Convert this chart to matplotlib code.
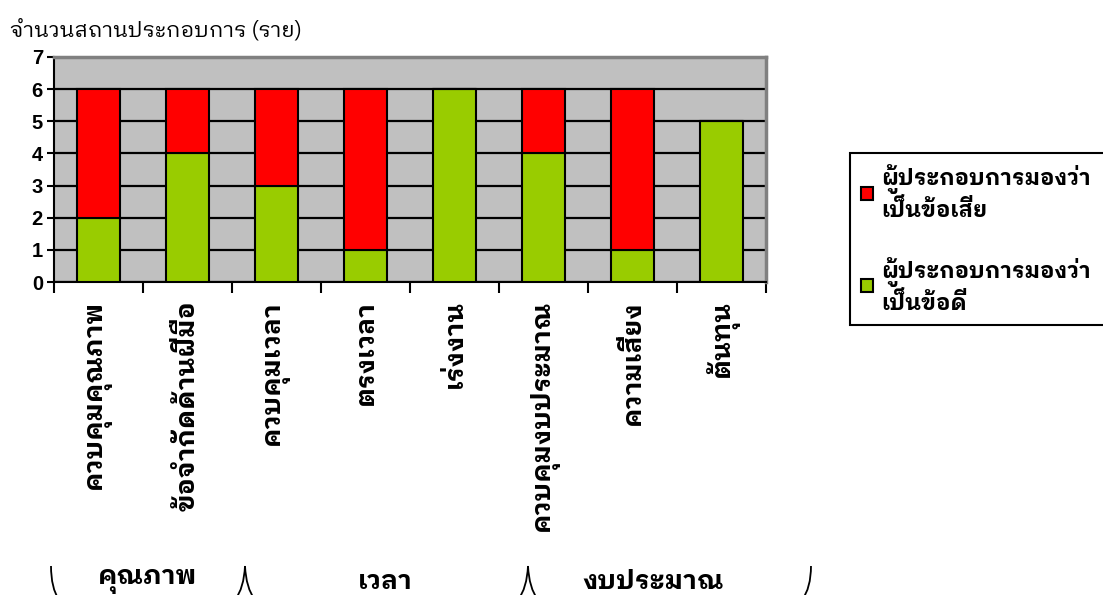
import matplotlib
matplotlib.use("Agg")
import matplotlib.pyplot as plt
import numpy as np
from matplotlib.path import Path
from matplotlib.patches import PathPatch

thai = ['IBM Plex Sans Thai Looped', 'Loma', 'DejaVu Sans']

# จำนวนสถานประกอบการที่มองว่าแต่ละวิธีเป็นข้อดี / ข้อเสีย
topics = ['ควบคุมคุณภาพ', 'ข้อจำกัดด้านฝีมือ', 'ควบคุมเวลา', 'ตรงเวลา',
          'เร่งงาน', 'ควบคุมงบประมาณ', 'ความเสี่ยง', 'ต้นทุน']
good = [2, 4, 3, 1, 6, 4, 1, 5]
bad = [4, 2, 3, 5, 0, 2, 5, 0]
groups = ['คุณภาพ', 'เวลา', 'งบประมาณ']
label_bad = 'ผู้ประกอบการมองว่า\nเป็นข้อเสีย'
label_good = 'ผู้ประกอบการมองว่า\nเป็นข้อดี'

W, H = 1103, 595
fig = plt.figure(figsize=(W / 100, H / 100), dpi=100)
ax = fig.add_axes([54 / W, 1 - 282 / H, (766 - 54) / W, (282 - 57) / H])
ax.set_facecolor('#C0C0C0')

x = np.arange(len(topics))
b_good = ax.bar(x, good, width=0.48, color='#99CC00', edgecolor='black', linewidth=1.5, zorder=3)
b_bad = ax.bar(x, bad, bottom=good, width=0.48, color='#FF0000', edgecolor='black', linewidth=1.5, zorder=3)

ax.set_xlim(-0.5, len(topics) - 0.5)
ax.set_ylim(0, 7)
ax.set_yticks(range(8))
ax.yaxis.grid(True, color='black', linewidth=1.6)
ax.set_axisbelow(True)
ax.tick_params(axis='y', direction='out', length=5, width=1.5, pad=3)
for t in ax.get_yticklabels():
    t.set_fontfamily('Liberation Sans')
    t.set_fontweight('bold')
    t.set_fontsize(14.5)

# ขีดแบ่งหมวดที่ขอบหมวด, ป้ายชื่อวางตรงกลางแท่ง
ax.set_xticks(np.arange(-0.5, len(topics), 1.0))
ax.set_xticklabels([])
ax.tick_params(axis='x', which='major', direction='out', length=8, width=1.5)
ax.set_xticks(x, minor=True)
ax.set_xticklabels(topics, minor=True, rotation=90, va='top', ha='center',
                   fontsize=19, fontweight='bold', family=thai)
ax.tick_params(axis='x', which='minor', length=0, pad=13)

for s in ['left', 'bottom']:
    ax.spines[s].set_color('black')
    ax.spines[s].set_linewidth(1.5)
for s in ['top', 'right']:
    ax.spines[s].set_color('#808080')
    ax.spines[s].set_linewidth(2.5)

fig.text(10 / W, 1 - 30 / H, 'จำนวนสถานประกอบการ (ราย)', fontsize=15.5, family=thai, va='center', ha='left')

# กรอบคำอธิบายยาวเลยขอบขวาของภาพ
leg = fig.legend([b_bad, b_good], [label_bad, label_good], loc='upper left',
                 bbox_to_anchor=(850 / W, 1 - 153 / H, 275 / W, 0), mode='expand',
                 bbox_transform=fig.transFigure,
                 prop={'family': thai, 'weight': 'bold', 'size': 16},
                 handlelength=0.55, handleheight=0.55, handletextpad=0.35,
                 labelspacing=1.6, borderpad=0.5, borderaxespad=0,
                 fancybox=False, framealpha=1, edgecolor='black')
leg.get_frame().set_linewidth(1.5)

# ชื่อกลุ่มด้านล่างพร้อมวงเล็บ
for name, cx in zip(groups, [148, 385, 653]):
    fig.text(cx / W, 1 - 582 / H, name, fontsize=19, fontweight='bold', family=thai, ha='center', va='center')


def curve(p0, p1, p2):
    pts = [(px / W, 1 - py / H) for px, py in (p0, p1, p2)]
    path = Path(pts, [Path.MOVETO, Path.CURVE3, Path.CURVE3])
    fig.add_artist(PathPatch(path, transform=fig.transFigure, fill=False, edgecolor='black', linewidth=1.3))


curve((51, 566), (51, 588), (59, 600))
curve((811, 566), (811, 588), (802, 600))
for cx in [245, 528]:
    curve((cx, 566), (cx - 1, 588), (cx - 10, 600))
    curve((cx, 566), (cx + 1, 588), (cx + 10, 600))

fig.savefig('out.png', dpi=100)
